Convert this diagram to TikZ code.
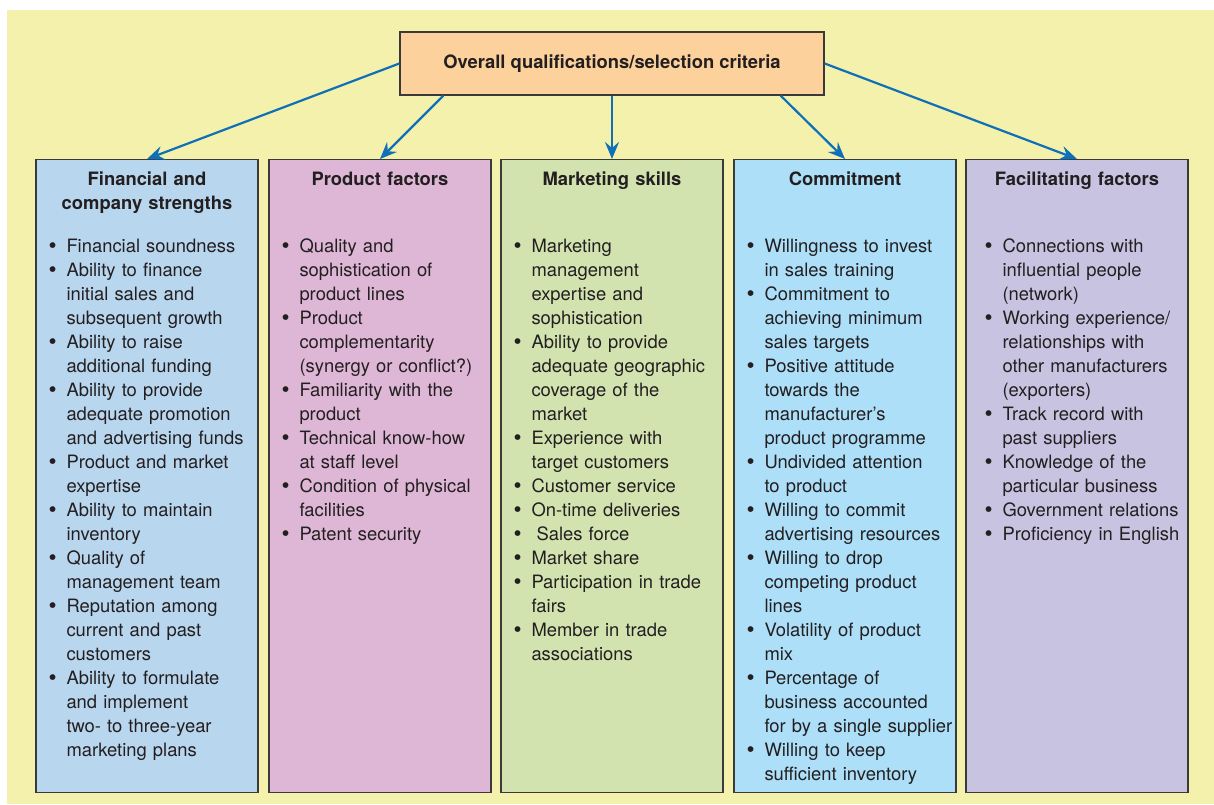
\documentclass[tikz,border=0pt]{standalone}
\usepackage{fontspec}
\setmainfont{TeX Gyre Heros}
\usetikzlibrary{positioning,arrows.meta}
\definecolor{bgyellow}{HTML}{F3F1AC}
\definecolor{topfill}{HTML}{FCD19C}
\definecolor{finfill}{HTML}{B9D6EF}
\definecolor{prodfill}{HTML}{DDB7D5}
\definecolor{markfill}{HTML}{D2E3B0}
\definecolor{commfill}{HTML}{ADDFF8}
\definecolor{facfill}{HTML}{C8C3E0}
\definecolor{boxline}{HTML}{3A3A3A}
\definecolor{linkblue}{HTML}{0F70B8}
\definecolor{inktext}{HTML}{231F20}
\newcommand\critfont{\fontsize{18.4}{24}\selectfont}
\newcommand\itm{\par\noindent\hangindent=18pt\hangafter=1\makebox[18pt][l]{\raisebox{-1.5pt}{\scalebox{1.25}{\textbullet}}}\strut}
\tikzset{
  crit/.style={draw=boxline, line width=1.4pt, minimum width=222pt, minimum height=633pt, inner sep=0pt, anchor=north},
  crittitle/.style={anchor=north, text width=222pt, align=center, font=\critfont\bfseries, inner sep=0pt, text=inktext},
  critlist/.style={anchor=north west, text width=215pt, inner sep=0pt, text=inktext},
  link/.style={draw=linkblue, line width=2.2pt, -{Stealth[length=17pt,width=14pt,inset=6pt]}}
}
\begin{document}
\begin{tikzpicture}[x=1pt,y=-1pt,font=\critfont]
  \useasboundingbox (0,0) rectangle (1214,804);
  \fill[bgyellow] (7,10) rectangle (1214,804);
  \node[draw=boxline, line width=1.4pt, fill=topfill, minimum width=424pt, minimum height=63pt, text=inktext, font=\critfont\bfseries]
    (top) at (612,63.5) {Overall qualifications/selection criteria};

  \node[crit, fill=finfill] (fin) at (147,159) {};
  \node[crit, fill=prodfill] (prod) at (380,159) {};
  \node[crit, fill=markfill] (mark) at (612,159) {};
  \node[crit, fill=commfill] (comm) at (845,159) {};
  \node[crit, fill=facfill] (fac) at (1077,159) {};

  \node[crittitle, below=9pt of fin.north] (fintitle) {\strut Financial and\\company strengths};
  \node[crittitle, below=9pt of prod.north] (prodtitle) {\strut Product factors};
  \node[crittitle, below=9pt of mark.north] (marktitle) {\strut Marketing skills};
  \node[crittitle, below=9pt of comm.north] (commtitle) {\strut Commitment};
  \node[crittitle, below=9pt of fac.north] (factitle) {\strut Facilitating factors};

  \node[critlist, below right=69pt and 13pt of fin.north west] (finlist) {%
    \itm Financial soundness
    \itm Ability to finance\newline initial sales and\newline subsequent growth
    \itm Ability to raise\newline additional funding
    \itm Ability to provide\newline adequate promotion\newline and advertising funds
    \itm Product and market\newline expertise
    \itm Ability to maintain\newline inventory
    \itm Quality of\newline management team
    \itm Reputation among\newline current and past\newline customers
    \itm Ability to formulate\newline and implement\newline two- to three-year\newline marketing plans\par};
  \node[critlist, below right=69pt and 13pt of prod.north west] (prodlist) {%
    \itm Quality and\newline sophistication of\newline product lines
    \itm Product\newline complementarity\newline (synergy or conflict?)
    \itm Familiarity with the\newline product
    \itm Technical know-how\newline at staff level
    \itm Condition of physical\newline facilities
    \itm Patent security\par};
  \node[critlist, below right=69pt and 13pt of mark.north west] (marklist) {%
    \itm Marketing\newline management\newline expertise and\newline sophistication
    \itm Ability to provide\newline adequate geographic\newline coverage of the\newline market
    \itm Experience with\newline target customers
    \itm Customer service
    \itm On-time deliveries
    \itm\hspace{5pt}Sales force
    \itm Market share
    \itm Participation in trade\newline fairs
    \itm Member in trade\newline associations\par};
  \node[critlist, below right=69pt and 13pt of comm.north west] (commlist) {%
    \itm Willingness to invest\newline in sales training
    \itm Commitment to\newline achieving minimum\newline sales targets
    \itm Positive attitude\newline towards the\newline manufacturer’s\newline product programme
    \itm Undivided attention\newline to product
    \itm Willing to commit\newline advertising resources
    \itm Willing to drop\newline competing product\newline lines
    \itm Volatility of product\newline mix
    \itm Percentage of\newline business accounted\newline for by a single supplier
    \itm Willing to keep\newline sufficient inventory\par};
  \node[critlist, below right=69pt and 19pt of fac.north west] (faclist) {%
    \itm Connections with\newline influential people\newline (network)
    \itm Working experience/\newline relationships with\newline other manufacturers\newline (exporters)
    \itm Track record with\newline past suppliers
    \itm Knowledge of the\newline particular business
    \itm Government relations
    \itm Proficiency in English\par};

  \begin{scope}[link]
    \draw (top.west) to (fin.north);
    \draw ([xshift=44pt]top.south west) to (prod.north);
    \draw (top.south) to (mark.north);
    \draw ([xshift=-44pt]top.south east) to (comm.north);
    \draw (top.east) to (fac.north);
  \end{scope}
\end{tikzpicture}
\end{document}
